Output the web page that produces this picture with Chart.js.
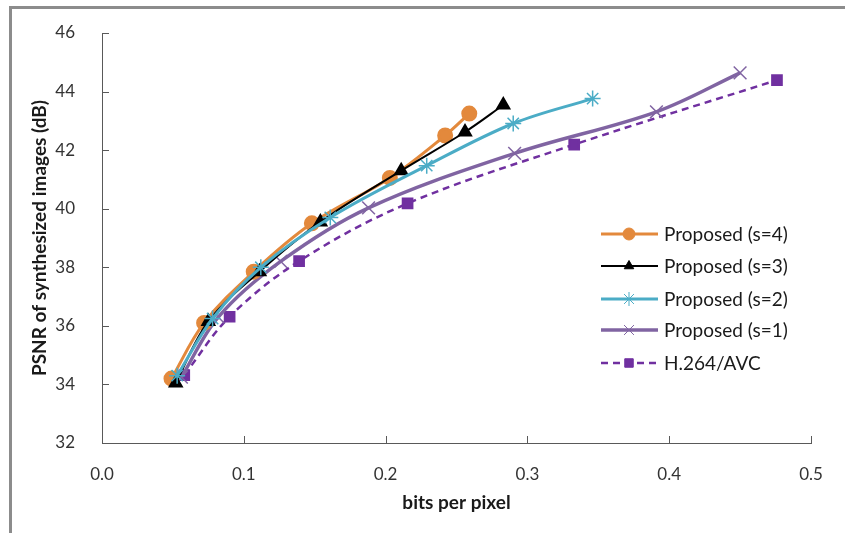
<!DOCTYPE html>
<html>
<head>
<meta charset="utf-8">
<script src="https://cdn.jsdelivr.net/npm/chart.js@4.4.1/dist/chart.umd.min.js"></script>
<style>
  html, body { margin: 0; padding: 0; background: #fff; }
  #wrap { position: relative; width: 845px; height: 533px; }
  #frame {
    position: absolute; left: 9px; top: 6px; right: 0; bottom: 0;
    border-left: 3px solid #8c8c8c; border-top: 3px solid #8c8c8c;
    pointer-events: none;
  }
</style>
</head>
<body>
<div id="wrap">
  <canvas id="rdChart" width="845" height="533"></canvas>
  <div id="frame"></div>
</div>
<script>
// rate-distortion values
const seriesNames = ["Proposed (s=4)", "Proposed (s=3)", "Proposed (s=2)", "Proposed (s=1)", "H.264/AVC"];

const bppS4 = [0.049, 0.072, 0.107, 0.148, 0.203, 0.242, 0.259];
const psnrS4 = [34.2, 36.1, 37.85, 39.5, 41.05, 42.5, 43.25];

const bppS3 = [0.052, 0.075, 0.111, 0.154, 0.211, 0.256, 0.283];
const psnrS3 = [34.05, 36.15, 37.85, 39.55, 41.3, 42.62, 43.54];

const bppS2 = [0.053, 0.078, 0.112, 0.161, 0.229, 0.29, 0.346];
const psnrS2 = [34.3, 36.25, 38.0, 39.7, 41.47, 42.91, 43.76];

const bppS1 = [0.056, 0.082, 0.126, 0.188, 0.291, 0.391, 0.45];
const psnrS1 = [34.25, 36.3, 38.2, 40.03, 41.89, 43.31, 44.64];

const bppAvc = [0.058, 0.09, 0.139, 0.2155, 0.333, 0.476];
const psnrAvc = [34.32, 36.31, 38.21, 40.18, 42.19, 44.39];

const xTicks = [0, 0.1, 0.2, 0.3, 0.4, 0.5];
const yTicks = [32, 34, 36, 38, 40, 42, 44, 46];

const tickFont = { family: "Lato, 'Open Sans', sans-serif", size: 17 };
const titleFont = { family: "Lato, 'Open Sans', sans-serif", size: 19, weight: "bold" };

function pts(xs, ys) {
  return xs.map((x, i) => ({ x: x, y: ys[i] }));
}

const origDrawPoint = Chart.helpers.drawPoint;

// inward tick marks plus an Excel-like legend (line with marker on it)
const excelBits = {
  id: "excelBits",
  afterDraw(chart) {
    const ctx = chart.ctx;
    const xs = chart.scales.x, ys = chart.scales.y;
    const area = chart.chartArea;
    ctx.save();
    ctx.strokeStyle = "#595959";
    ctx.lineWidth = 1;
    xTicks.forEach((v) => {
      const px = Math.round(xs.getPixelForValue(v)) + 0.5;
      ctx.beginPath();
      ctx.moveTo(px, area.bottom);
      ctx.lineTo(px, area.bottom - 7);
      ctx.stroke();
    });
    yTicks.forEach((v) => {
      const py = Math.round(ys.getPixelForValue(v)) + 0.5;
      ctx.beginPath();
      ctx.moveTo(area.left, py);
      ctx.lineTo(area.left + 7, py);
      ctx.stroke();
    });

    const rowY = [234, 266, 299, 330, 363];
    chart.data.datasets.forEach((ds, i) => {
      const y = rowY[i];
      ctx.save();
      ctx.strokeStyle = ds.borderColor;
      ctx.lineWidth = ds.borderWidth;
      ctx.setLineDash(ds.borderDash || []);
      ctx.beginPath();
      ctx.moveTo(601, y);
      ctx.lineTo(658, y);
      ctx.stroke();
      ctx.restore();

      ctx.save();
      ctx.fillStyle = ds.pointBackgroundColor;
      ctx.strokeStyle = ds.pointBorderColor;
      origDrawPoint(ctx, {
        pointStyle: ds.pointStyle,
        radius: ds.legendRadius,
        rotation: 0,
        borderWidth: ds.pointBorderWidth || 1
      }, 629, y);
      ctx.restore();

      ctx.fillStyle = "#1a1a1a";
      ctx.font = "19px Lato, 'Open Sans', sans-serif";
      ctx.textBaseline = "middle";
      ctx.textAlign = "left";
      ctx.fillText(ds.label, 664, y + 1);
    });
    ctx.restore();
  }
};

const orange = "#E3893C";
const black = "#000000";
const teal = "#4BACC6";
const lilac = "#8064A2";
const violet = "#7030A0";

new Chart(document.getElementById("rdChart").getContext("2d"), {
  type: "scatter",
  data: {
    datasets: [
      {
        label: seriesNames[0],
        data: pts(bppS4, psnrS4),
        showLine: true,
        borderColor: orange,
        borderWidth: 3,
        backgroundColor: orange,
        pointStyle: "circle",
        pointRadius: 6.5,
        pointBackgroundColor: orange,
        pointBorderColor: orange,
        legendRadius: 6,
        order: 4
      },
      {
        label: seriesNames[1],
        data: pts(bppS3, psnrS3),
        showLine: true,
        borderColor: black,
        borderWidth: 2,
        backgroundColor: black,
        pointStyle: "triangle",
        pointRadius: 7,
        pointBackgroundColor: black,
        pointBorderColor: black,
        legendRadius: 5.5,
        order: 3
      },
      {
        label: seriesNames[2],
        data: pts(bppS2, psnrS2),
        showLine: true,
        borderColor: teal,
        borderWidth: 3,
        backgroundColor: teal,
        pointStyle: "star",
        pointRadius: 8,
        pointBorderWidth: 1.5,
        pointBackgroundColor: teal,
        pointBorderColor: teal,
        legendRadius: 7,
        order: 2
      },
      {
        label: seriesNames[3],
        data: pts(bppS1, psnrS1),
        showLine: true,
        borderColor: lilac,
        borderWidth: 3.5,
        backgroundColor: lilac,
        pointStyle: "crossRot",
        pointRadius: 9,
        pointBorderWidth: 1.5,
        pointBackgroundColor: lilac,
        pointBorderColor: lilac,
        legendRadius: 7,
        order: 5
      },
      {
        label: seriesNames[4],
        data: pts(bppAvc, psnrAvc),
        showLine: true,
        borderColor: violet,
        borderWidth: 2.5,
        borderDash: [7, 5],
        backgroundColor: violet,
        pointStyle: "rect",
        pointRadius: 6.5,
        pointBackgroundColor: violet,
        pointBorderColor: violet,
        legendRadius: 6,
        order: 6
      }
    ]
  },
  options: {
    responsive: false,
    animation: false,
    layout: { padding: { left: 0, top: 33, right: 34, bottom: 0 } },
    elements: {
      line: { tension: 0.35 }
    },
    plugins: {
      legend: { display: false },
      tooltip: { enabled: false }
    },
    scales: {
      x: {
        type: "linear",
        min: 0,
        max: 0.5,
        afterFit: (s) => { s.height = 90; },
        afterBuildTicks: (s) => { s.ticks = xTicks.map((v) => ({ value: v })); },
        grid: { display: false },
        border: { display: true, color: "#595959", width: 1 },
        ticks: {
          padding: 13,
          color: "#333333",
          font: tickFont,
          callback: (v) => v.toFixed(1)
        },
        title: {
          display: true,
          text: "bits per pixel",
          color: "#1a1a1a",
          font: titleFont,
          padding: { top: 0, bottom: 19 }
        }
      },
      y: {
        type: "linear",
        min: 32,
        max: 46,
        afterFit: (s) => { s.width = 102; },
        afterBuildTicks: (s) => { s.ticks = yTicks.map((v) => ({ value: v })); },
        grid: { display: false },
        border: { display: true, color: "#595959", width: 1 },
        ticks: {
          padding: 19,
          color: "#333333",
          font: tickFont
        },
        title: {
          display: true,
          text: "PSNR of synthesized images (dB)",
          color: "#1a1a1a",
          font: titleFont,
          padding: { top: 28, bottom: 0 }
        }
      }
    }
  },
  plugins: [excelBits]
});
</script>
</body>
</html>
